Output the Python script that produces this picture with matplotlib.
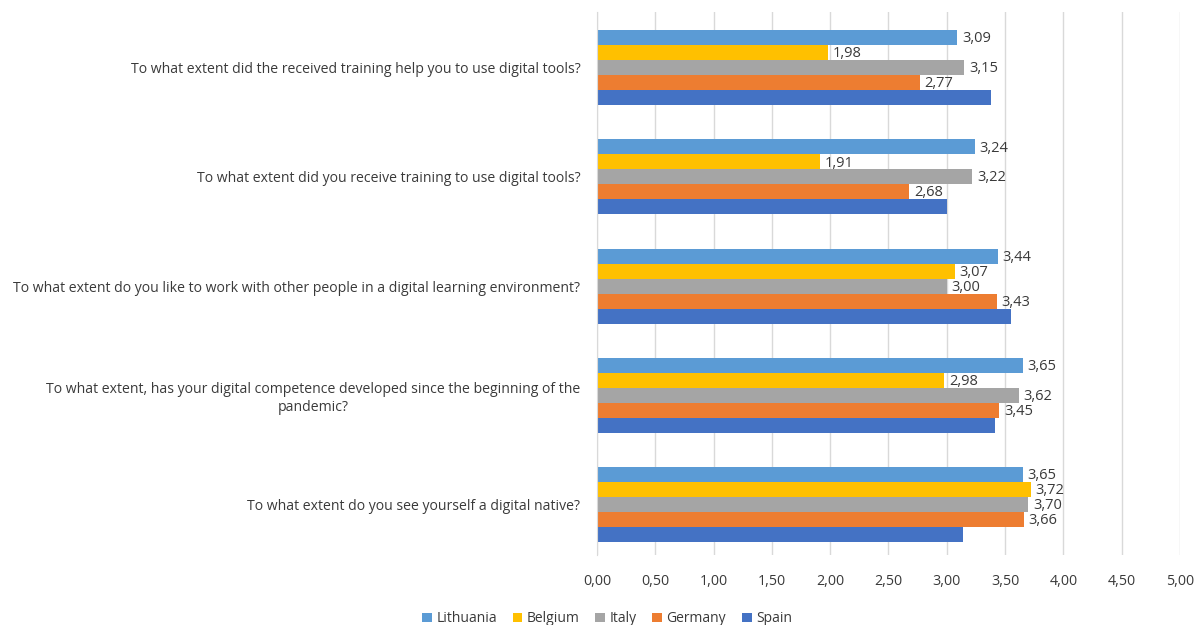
import matplotlib.pyplot as plt
import numpy as np

questions = [
    "To what extent did the received training help you to use digital tools?",
    "To what extent did you receive training to use digital tools?",
    "To what extent do you like to work with other people in a digital learning environment?",
    "To what extent, has your digital competence developed since the beginning of the\npandemic?",
    "To what extent do you see yourself a digital native?",
]
countries = ["Lithuania", "Belgium", "Italy", "Germany", "Spain"]
colors = ["#5b9bd5", "#ffc000", "#a5a5a5", "#ed7d31", "#4472c4"]

lithuania = [3.09, 3.24, 3.44, 3.65, 3.65]
belgium = [1.98, 1.91, 3.07, 2.98, 3.72]
italy = [3.15, 3.22, 3.00, 3.62, 3.70]
germany = [2.77, 2.68, 3.43, 3.45, 3.66]
spain = [3.38, 3.00, 3.55, 3.41, 3.14]
series = [lithuania, belgium, italy, germany, spain]
show_labels = [True, True, True, True, False]

xticks = [0, 0.5, 1, 1.5, 2, 2.5, 3, 3.5, 4, 4.5, 5]

plt.rcParams['font.family'] = ['Open Sans', 'DejaVu Sans']
txt = "#3a3a3a"

fig = plt.figure(figsize=(11.95, 6.25), dpi=100)
ax = fig.add_axes([0.4996, 0.112, 0.4878, 0.869])

h = 0.137
y = np.arange(len(questions))
for i, (name, vals, col) in enumerate(zip(countries, series, colors)):
    pos = y + (i - 2) * h
    ax.barh(pos, vals, height=h, color=col, label=name, zorder=3)
    if show_labels[i]:
        for p, v in zip(pos, vals):
            ax.text(v + 0.04, p + 0.01, f"{v:.2f}".replace(".", ","), va="center", ha="left",
                    fontsize=10.5, color=txt, zorder=4)

ax.set_ylim(4.46, -0.51)
ax.set_xlim(0, 5)
ax.set_xticks(xticks)
ax.set_xticklabels([f"{t:.2f}".replace(".", ",") for t in xticks], fontsize=10.3, color=txt)
ax.set_yticks(y)
ax.set_yticklabels(questions, fontsize=10.1, color=txt)
for lbl in ax.get_yticklabels():
    lbl.set_multialignment("center")
ax.tick_params(axis="both", length=0)
ax.tick_params(axis="y", pad=12)
ax.tick_params(axis="x", pad=14)
ax.grid(axis="x", color="#d9d9d9", linewidth=1, zorder=0)
for s in ["top", "right", "bottom"]:
    ax.spines[s].set_visible(False)
ax.spines["left"].set_color("#d9d9d9")
ax.spines["left"].set_zorder(5)

fig.legend(loc="lower center", bbox_to_anchor=(0.508, -0.022), ncol=5, frameon=False,
           fontsize=10, handlelength=0.7, handleheight=0.7, handletextpad=0.3,
           columnspacing=1.15, labelcolor=txt)

fig.savefig("out.png", dpi=100)
